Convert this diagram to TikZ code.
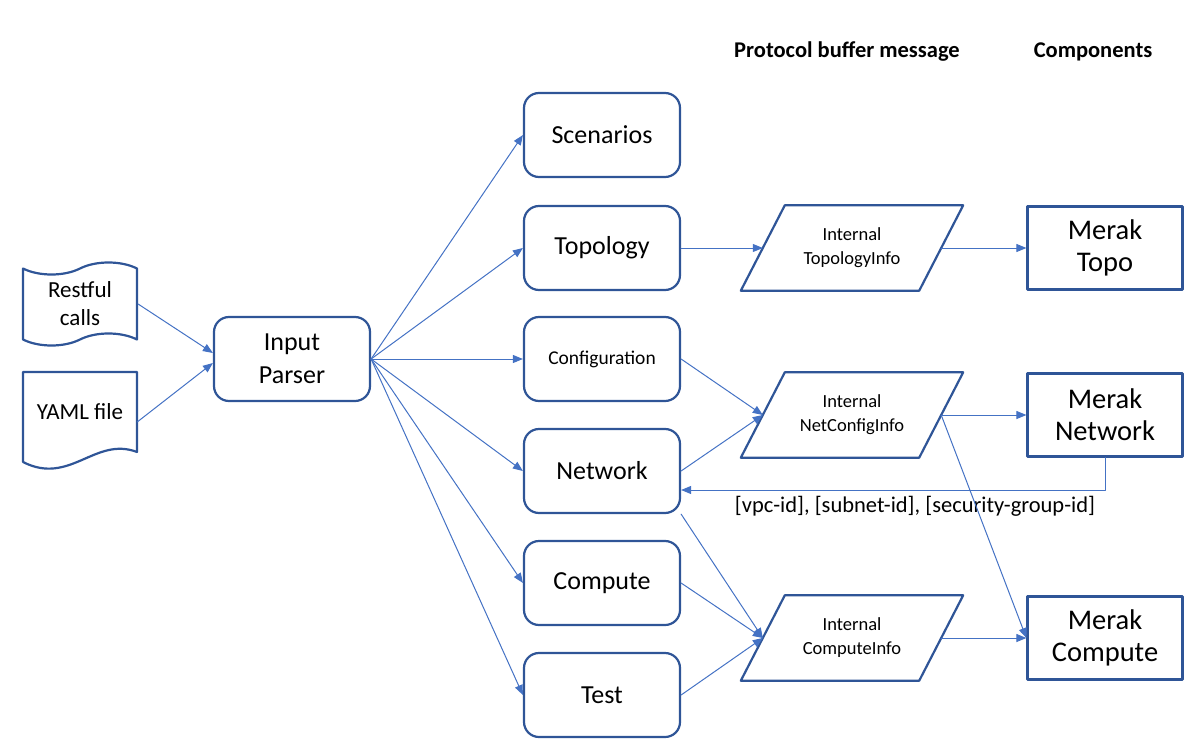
\documentclass[tikz,border=0pt]{standalone}
\usepackage{fontspec}
\setmainfont{Carlito}
\usetikzlibrary{arrows.meta,shapes.symbols}

\definecolor{boxblue}{HTML}{2F5597}
\definecolor{arrblue}{HTML}{4472C4}

\begin{document}
\begin{tikzpicture}[line cap=round,line join=round,>={Triangle[length=10pt,width=8pt]},x=1pt,y=-1pt,
    stepbox/.style={draw=boxblue,line width=2.2pt,rounded corners=15pt,minimum width=156pt,minimum height=84pt,align=center,font=\fontsize{26}{33}\selectfont},
    smallstep/.style={stepbox,font=\fontsize{19.5}{24}\selectfont},
    msgbox/.style={minimum width=178pt,minimum height=85pt,align=center,font=\fontsize{18.5}{24}\selectfont},
    msgline/.style={draw=boxblue,line width=2.2pt},
    compbox/.style={draw=boxblue,line width=2.2pt,minimum width=155pt,minimum height=83pt,align=center,font=\fontsize{28.5}{32}\selectfont},
    srcbox/.style={minimum width=114pt,align=center,font=\fontsize{23}{28}\selectfont},
    headtext/.style={font=\bfseries\fontsize{22.5}{26}\selectfont},
    arr/.style={->,draw=arrblue,line width=1pt}]
    \useasboundingbox (0,0) rectangle (1201,746);
    % headers
    \node[headtext] (hmsg) at (847,52) {Protocol buffer message};
    \node[headtext] (hcomp) at (1093,52) {Components};
    % inputs
    \node[srcbox,draw=boxblue,line width=2.2pt,tape,tape bend height=12pt,minimum height=83pt] (restful) at (80,304) {Restful\\calls};
    \node[srcbox,minimum height=80pt] (yaml) at (80,412) {YAML file};
    \draw[boxblue,line width=2.2pt] (23,462) -- (23,372) -- (137,372) -- (137,452)
        .. controls (95,436) and (70,486) .. (23,462);
    \node[stepbox] (parser) at (292,359) {Input\\Parser};
    % middle column
    \node[stepbox] (scen) at (602,135) {Scenarios};
    \node[stepbox] (topo) at (602,248) {Topology};
    \node[smallstep] (conf) at (602,359) {Configuration};
    \node[stepbox] (net) at (602,471) {Network};
    \node[stepbox] (comp) at (602,583) {Compute};
    \node[stepbox] (test) at (602,695) {Test};
    % protocol buffer messages
    \node[msgbox] (topoinfo) at (852,248) {Internal\\TopologyInfo};
    \node[msgbox] (netinfo) at (852,415) {Internal\\NetConfigInfo};
    \node[msgbox] (compinfo) at (852,638) {Internal\\ComputeInfo};
    \foreach \m in {topoinfo,netinfo,compinfo}
        \draw[msgline] ([xshift=22pt]\m.north west) -- ([xshift=22pt]\m.north east)
            -- ([xshift=-22pt]\m.south east) -- ([xshift=-22pt]\m.south west) -- cycle;
    % components
    \node[compbox] (mtopo) at (1105,248) {Merak\\Topo};
    \node[compbox] (mnet) at (1105,415) {Merak\\Network};
    \node[compbox] (mcomp) at (1105,638) {Merak\\Compute};
    \node[font=\fontsize{22.5}{26}\selectfont] (ids) at (915,506) {[vpc-id], [subnet-id], [security-group-id]};
    % connectors
    \draw[arr] (restful.east) -- ([yshift=6pt]parser.west);
    \draw[arr] ([yshift=-10pt]yaml.east) -- ([yshift=-4pt]parser.west);
    \foreach \t in {scen,topo,conf,net,comp,test}
        \draw[arr] (parser.east) -- (\t.west);
    \draw[arr] (topo.east) -- (topoinfo.west);
    \draw[arr] (conf.east) -- (netinfo.west);
    \draw[arr] (net.east) -- (netinfo.west);
    \draw[arr] (net.south east) -- (compinfo.west);
    \draw[arr] (comp.east) -- (compinfo.west);
    \draw[arr] (test.east) -- (compinfo.west);
    \draw[arr] (topoinfo.east) -- (mtopo.west);
    \draw[arr] (netinfo.east) -- (mnet.west);
    \draw[arr] (netinfo.east) -- (mcomp.west);
    \draw[arr] (compinfo.east) -- (mcomp.west);
    \draw[arr] (mnet.south) |- ([yshift=-19pt]net.east);
\end{tikzpicture}
\end{document}
